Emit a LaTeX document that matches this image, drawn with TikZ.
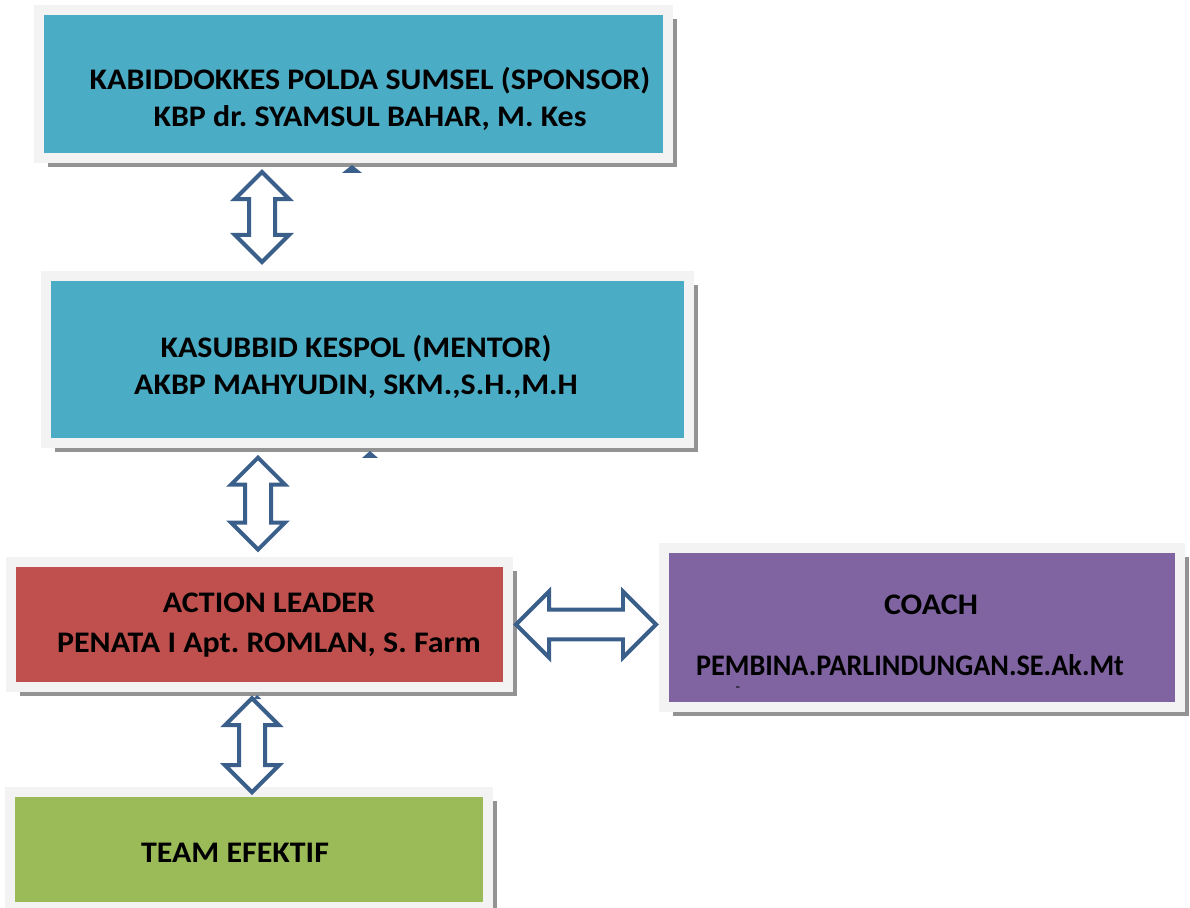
\documentclass[tikz,border=0pt]{standalone}
\usepackage{fontspec}
\setmainfont{Carlito}[FakeStretch=1.07]
\newfontfamily\narrowfont{Carlito}[FakeStretch=0.945]
\frenchspacing
\usetikzlibrary{shapes,arrows,shadows}
\definecolor{aqua}{HTML}{4BACC6}
\definecolor{brick}{HTML}{C0504D}
\definecolor{violet}{HTML}{8064A2}
\definecolor{olive}{HTML}{9BBB59}
\definecolor{frame}{HTML}{F3F3F3}
\definecolor{linkblue}{HTML}{3A5F8B}
\tikzstyle{box} = [rectangle, draw=frame, line width=0.2cm, inner sep=0pt,
    drop shadow={shadow xshift=0.18cm, shadow yshift=-0.18cm, fill=gray!85, opacity=1}]
\tikzstyle{lbl} = [align=center, inner sep=0pt, font=\bfseries\fontsize{17}{21}\selectfont]
\tikzstyle{link} = [double arrow, draw=linkblue, fill=white, line width=0.08cm,
    inner xsep=0pt, inner ysep=0.22cm, double arrow head extend=0.28cm, minimum height=1.8cm]

\begin{document}
\begin{tikzpicture}[x=0.02cm, y=-0.02cm]
		\useasboundingbox (0,0) rectangle (1190,908);
		\node [box, fill=aqua, minimum width=12.58cm, minimum height=2.96cm] (sponsor) at (353.5,84) {};
		\node [box, fill=aqua, minimum width=12.86cm, minimum height=3.34cm] (mentor) at (367.5,359.5) {};
		\node [box, fill=brick, minimum width=9.94cm, minimum height=2.5cm] (leader) at (259.5,624.5) {};
		\node [box, fill=violet, minimum width=10.32cm, minimum height=3.18cm] (coach) at (922,627.5) {};
		\node [box, fill=olive, minimum width=9.56cm, minimum height=2.3cm] (team) at (249,849.5) {};
		
		\node [lbl] (sponsorlbl) at (370,98.5) {KABIDDOKKES POLDA SUMSEL (SPONSOR)\\KBP dr. SYAMSUL BAHAR, M. Kes};
		\node [lbl] (mentorlbl) at (356,366.5) {KASUBBID KESPOL (MENTOR)\\AKBP MAHYUDIN, SKM.,S.H.,M.H};
		\node [lbl, font=\bfseries\fontsize{17}{23}\selectfont] (leaderlbl) at (269,625) {ACTION LEADER\\PENATA I Apt. ROMLAN, S. Farm};
		\node [lbl] (coachlbl) at (931,605) {COACH};
		\node [lbl, font=\narrowfont\bfseries\fontsize{17}{21}\selectfont] (coachname) at (910,665) {PEMBINA.PARLINDUNGAN.SE.Ak.Mt};
		\node [lbl, font=\fontsize{8}{8}\selectfont] (coachdash) at (738,689) {-};
		\node [lbl] (teamlbl) at (235,853) {TEAM EFEKTIF};
		
		\fill [linkblue] (342,173) -- (352,165) -- (362,173) -- cycle;
		\fill [linkblue] (362,458) -- (370,451) -- (378,458) -- cycle;
		\fill [linkblue] (253,699) -- (257,695) -- (261,699) -- cycle;
		
		\path (sponsor.south -| 262,0) -- node [link, sloped] (linkA) {} (mentor.north -| 262,0);
		\path (mentor.south -| 258,0) -- node [link, sloped, pos=0.51, minimum height=1.84cm] (linkB) {} (leader.north -| 258,0);
		\path (leader.south -| 252,0) -- node [link, sloped, pos=0.56, minimum height=1.88cm] (linkC) {} (team.north -| 252,0);
		\path (leader.east) -- node [link, sloped, inner ysep=0.26cm, double arrow head extend=0.36cm, minimum height=2.8cm] (linkD) {} (coach.west |- leader.east);
	\end{tikzpicture}
\end{document}
